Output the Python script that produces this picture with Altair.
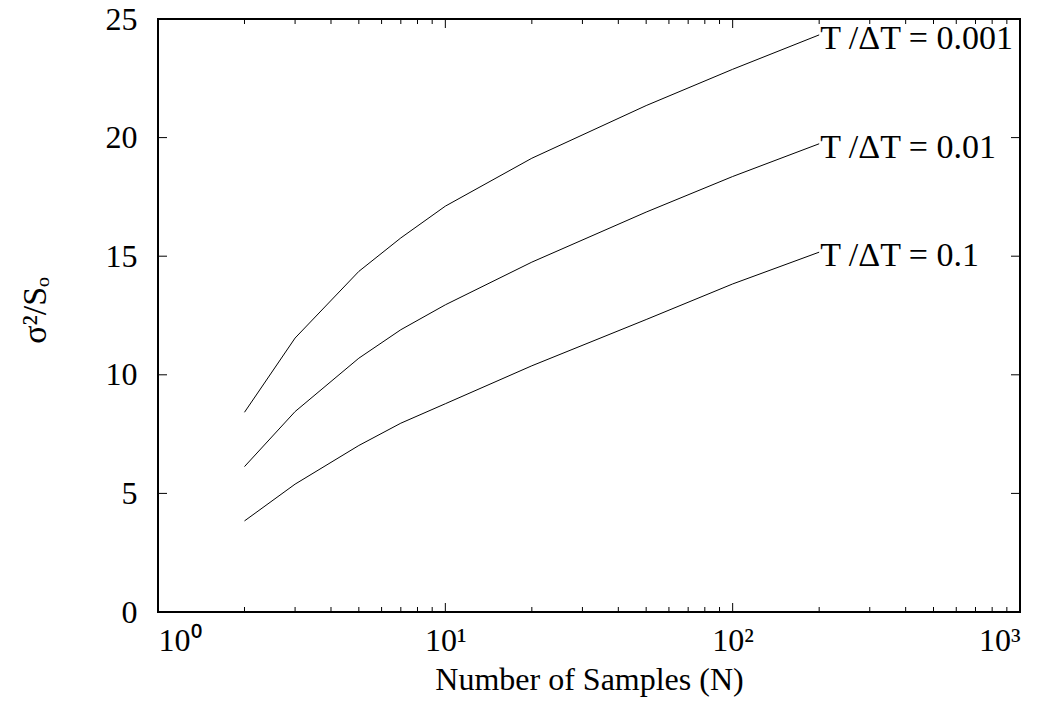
import altair as alt
import pandas as pd

# Data
N = [2, 3, 5, 7, 10, 20, 50, 100, 200]
r_01 = [3.84, 5.39, 7.02, 7.96, 8.78, 10.38, 12.33, 13.83, 15.17]
r_001 = [6.13, 8.45, 10.70, 11.90, 12.95, 14.75, 16.86, 18.36, 19.74]
r_0001 = [8.42, 11.55, 14.36, 15.77, 17.11, 19.13, 21.35, 22.88, 24.33]
series_names = ["T /\u0394T = 0.1", "T /\u0394T = 0.01", "T /\u0394T = 0.001"]

x_major = [1, 10, 100, 1000]
x_minor = [2, 3, 4, 5, 6, 7, 8, 9, 20, 30, 40, 50, 60, 70, 80, 90,
           200, 300, 400, 500, 600, 700, 800, 900]
y_major = [0, 5, 10, 15, 20, 25]

rows = []
for name, vals in zip(series_names, [r_01, r_001, r_0001]):
    for n, v in zip(N, vals):
        rows.append({"N": n, "v": v, "s": name})
df = pd.DataFrame(rows)
lab = df[df["N"] == N[-1]]

W, H = 862, 593
FONT = "Liberation Serif, Times New Roman, serif"
FS = 32

xs = alt.Scale(type="log", domain=[1, 1000], nice=False)
ys = alt.Scale(domain=[0, 25], nice=False, zero=False)

xaxis = alt.Axis(values=x_major, ticks=False, domain=False, grid=False,
                 labelExpr="'10' + ['\u2070','\u00b9','\u00b2','\u00b3'][round(log(datum.value)/LN10)]",
                 labelFont=FONT, labelFontSize=FS, labelColor="black", labelPadding=13,
                 title="Number of Samples (N)", titleFont=FONT, titleFontSize=FS,
                 titleFontWeight="normal", titleColor="black", titleY=67, titleBaseline="middle")
yaxis = alt.Axis(values=y_major, ticks=False, domain=False, grid=False,
                 labelFont=FONT, labelFontSize=FS, labelColor="black", labelPadding=21,
                 title="\u03c3\u00b2/S\u2092", titleFont=FONT, titleFontSize=34,
                 titleFontWeight="normal", titleColor="black", titleX=-123, titleY=291,
                 titleBaseline="middle", titleAngle=270)

lines = alt.Chart(df).mark_line(color="black", strokeWidth=1).encode(
    x=alt.X("N:Q", scale=xs, axis=xaxis),
    y=alt.Y("v:Q", scale=ys, axis=yaxis),
    detail="s:N",
)

labels = alt.Chart(lab).mark_text(align="left", baseline="middle", dx=1, dy=4,
                                   font=FONT, fontSize=34, color="black").encode(
    x=alt.X("N:Q", scale=xs), y=alt.Y("v:Q", scale=ys), text="s:N")

dmaj = pd.DataFrame({"t": x_major})
dmin = pd.DataFrame({"t": x_minor})
dy = pd.DataFrame({"t": y_major})

def xt(d, y0, y1):
    return alt.Chart(d).mark_rule(color="black", strokeWidth=1).encode(
        x=alt.X("t:Q", scale=xs), y=alt.value(y0), y2=alt.value(y1))

def yt(x0, x1):
    return alt.Chart(dy).mark_rule(color="black", strokeWidth=1).encode(
        y=alt.Y("t:Q", scale=ys), x=alt.value(x0), x2=alt.value(x1))

ticks = [
    xt(dmaj, H, H - 9), xt(dmaj, 0, 9),
    xt(dmin, H, H - 5), xt(dmin, 0, 5),
    yt(0, 9), yt(W, W - 9),
]

chart = alt.layer(lines, labels, *ticks).properties(
    width=W, height=H,
    autosize=alt.AutoSizeParams(type="none"),
    padding={"left": 150, "top": 11, "right": 22, "bottom": 100},
    background="white",
).configure_view(stroke="black", strokeWidth=2)

chart.save("out.html", embed_options={"renderer": "svg", "actions": False})
